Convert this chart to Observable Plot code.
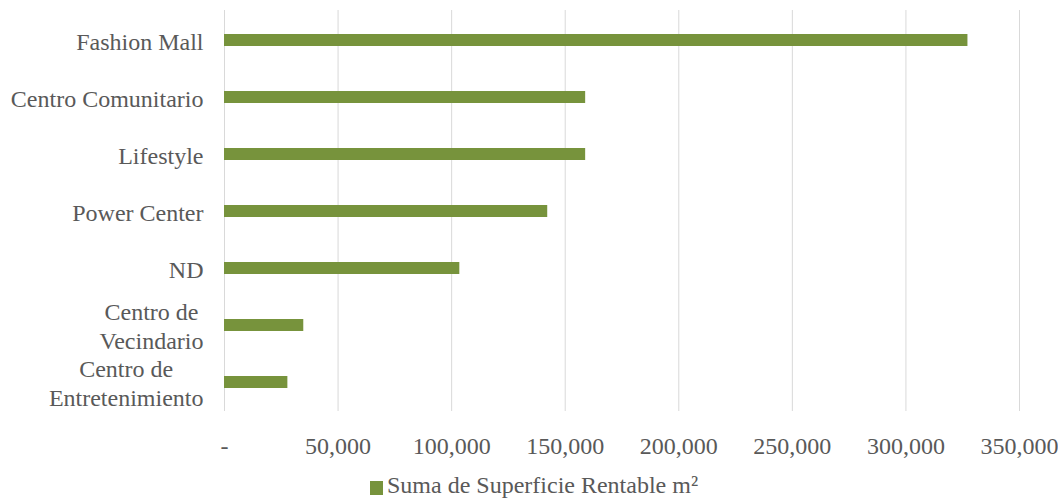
<!DOCTYPE html>
<html><head><meta charset="utf-8">
<script src="https://cdn.jsdelivr.net/npm/d3@7"></script>
<script src="https://cdn.jsdelivr.net/npm/@observablehq/plot@0.6"></script>
<style>
body{margin:0;background:#fff;font-family:"Liberation Serif","Times New Roman",serif;}
#wrap{position:relative;width:1058px;height:499px;overflow:hidden;}
#legend{position:absolute;left:370px;top:471px;font-size:24px;line-height:28px;color:#595959;display:flex;align-items:center;white-space:nowrap;}
#legend .sw{width:13px;height:14px;background:#77933C;margin-right:4px;margin-top:6px;}
</style></head><body><div id="wrap"></div>
<script>
const categories = ["Fashion Mall", "Centro Comunitario", "Lifestyle", "Power Center", "ND", "Centro de\nVecindario", "Centro de\nEntretenimiento"];
const values = [327300, 159000, 159000, 142300, 103600, 34900, 27900];
const seriesName = "Suma de Superficie Rentable m²";
const xTicks = [0, 50000, 100000, 150000, 200000, 250000, 300000, 350000];
const barColor = "#77933C";

const data = categories.map((c, i) => ({category: c, value: values[i]}));

const chart = Plot.plot({
  width: 1058, height: 460,
  marginLeft: 224, marginRight: 39, marginTop: 10, marginBottom: 49,
  style: {fontFamily: "'Liberation Serif', 'Times New Roman', serif", fontSize: "24px", color: "#595959", background: "#fff"},
  x: {domain: [0, 350000]},
  y: {domain: categories, paddingInner: 0.79, paddingOuter: 0.395},
  marks: [
    Plot.gridX(xTicks, {stroke: "#d9d9d9", strokeOpacity: 1, strokeWidth: 1}),
    Plot.barX(data, {x: "value", y: "category", fill: barColor}),
    Plot.axisX(xTicks, {tickSize: 0, tickPadding: 25, fontSize: 24, fill: "#595959",
      tickFormat: d => d === 0 ? "-" : d3.format(",")(d), label: null}),
    Plot.axisY({tickSize: 0, tickPadding: 21, fontSize: 24, fill: "#595959", lineHeight: 1.17, label: null})
  ]
});

const wrap = document.getElementById("wrap");
wrap.appendChild(chart);

// center multi-line category labels within their own block
chart.querySelectorAll('g[aria-label="y-axis tick label"] text').forEach(t => {
  const ts = t.querySelectorAll("tspan");
  if (ts.length > 1) {
    const w = t.getBBox().width;
    t.setAttribute("text-anchor", "middle");
    ts.forEach(s => s.setAttribute("x", -w / 2));
  }
});

const legend = document.createElement("div");
legend.id = "legend";
const sw = document.createElement("div");
sw.className = "sw";
const lt = document.createElement("span");
lt.textContent = seriesName;
legend.appendChild(sw);
legend.appendChild(lt);
wrap.appendChild(legend);
</script>
</body></html>
